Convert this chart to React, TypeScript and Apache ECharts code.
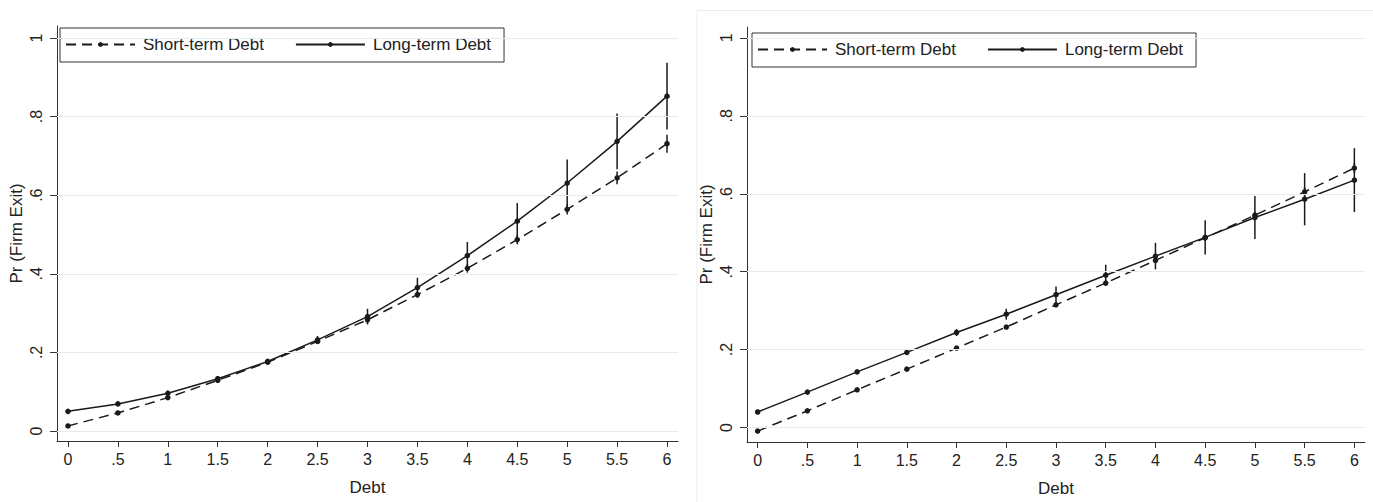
import React, { useEffect, useRef } from "react";
import * as echarts from "echarts";

// Debt levels (x)
const debt = [0, 0.5, 1, 1.5, 2, 2.5, 3, 3.5, 4, 4.5, 5, 5.5, 6];
const yTicks = [0, 0.2, 0.4, 0.6, 0.8, 1];
const xTicks = [0, 0.5, 1, 1.5, 2, 2.5, 3, 3.5, 4, 4.5, 5, 5.5, 6];

// Left panel
const shortLeft = [0.013, 0.046, 0.085, 0.129, 0.175, 0.228, 0.283, 0.347, 0.414, 0.487, 0.564, 0.644, 0.731];
const shortLeftLo = [0.009, 0.042, 0.080, 0.124, 0.170, 0.222, 0.276, 0.339, 0.403, 0.475, 0.551, 0.628, 0.708];
const shortLeftHi = [0.017, 0.050, 0.090, 0.134, 0.180, 0.234, 0.290, 0.355, 0.425, 0.499, 0.577, 0.660, 0.754];
const longLeft = [0.050, 0.069, 0.096, 0.133, 0.177, 0.232, 0.291, 0.365, 0.446, 0.534, 0.631, 0.737, 0.852];
const longLeftLo = [0.045, 0.063, 0.089, 0.126, 0.170, 0.222, 0.271, 0.340, 0.411, 0.488, 0.571, 0.666, 0.767];
const longLeftHi = [0.055, 0.075, 0.103, 0.140, 0.184, 0.242, 0.311, 0.390, 0.481, 0.580, 0.691, 0.808, 0.937];

// Right panel
const shortRight = [-0.009, 0.043, 0.097, 0.150, 0.204, 0.258, 0.315, 0.371, 0.429, 0.487, 0.545, 0.605, 0.666];
const shortRightLo = [-0.013, 0.040, 0.094, 0.147, 0.201, 0.254, 0.310, 0.365, 0.422, 0.479, 0.536, 0.594, 0.653];
const shortRightHi = [-0.005, 0.046, 0.100, 0.153, 0.207, 0.262, 0.320, 0.377, 0.436, 0.495, 0.554, 0.616, 0.679];
const longRight = [0.040, 0.091, 0.143, 0.193, 0.244, 0.291, 0.341, 0.391, 0.440, 0.488, 0.539, 0.586, 0.635];
const longRightLo = [0.035, 0.086, 0.138, 0.187, 0.235, 0.277, 0.320, 0.364, 0.406, 0.444, 0.484, 0.519, 0.553];
const longRightHi = [0.045, 0.096, 0.148, 0.199, 0.253, 0.305, 0.362, 0.418, 0.474, 0.532, 0.594, 0.653, 0.717];

const SHORT = "Short-term Debt";
const LONG = "Long-term Debt";
const FONT = "Liberation Sans, Arial, Helvetica, sans-serif";
const INK = "#1a1a1a";

const stataNum = (v: number) => {
  const r = Math.round(v * 100) / 100;
  const s = String(r);
  if (s.startsWith("0.")) return s.slice(1);
  if (s.startsWith("-0.")) return "-" + s.slice(2);
  return s;
};

function lineSeries(name: string, vals: number[], dashed: boolean, idx: number) {
  return {
    type: "line",
    name,
    xAxisIndex: idx,
    yAxisIndex: idx,
    data: debt.map((x, i) => [x, vals[i]]),
    symbol: "circle",
    symbolSize: 5.5,
    showSymbol: true,
    itemStyle: { color: INK },
    lineStyle: { color: INK, width: 1.5, type: dashed ? [10, 6] : "solid" },
    z: 4,
  };
}

function errSeries(lo: number[], hi: number[], idx: number) {
  return {
    type: "custom",
    xAxisIndex: idx,
    yAxisIndex: idx,
    silent: true,
    data: debt.map((x, i) => [x, lo[i], hi[i]]),
    encode: { x: 0, y: [1, 2] },
    renderItem: (_p: any, api: any) => {
      const a = api.coord([api.value(0), api.value(1)]);
      const b = api.coord([api.value(0), api.value(2)]);
      return {
        type: "line",
        shape: { x1: a[0], y1: a[1], x2: b[0], y2: b[1] },
        style: { stroke: INK, lineWidth: 1.5 },
      };
    },
    z: 3,
  };
}

function xAxis(idx: number, min: number, max: number) {
  return {
    type: "value",
    gridIndex: idx,
    min,
    max,
    name: "Debt",
    nameLocation: "middle",
    nameGap: 38,
    nameTextStyle: { fontFamily: FONT, fontSize: 17, color: "#222" },
    axisLine: { show: true, onZero: false, lineStyle: { color: "#333", width: 1 } },
    axisTick: { show: true, length: 6, lineStyle: { color: "#333" }, customValues: xTicks },
    axisLabel: {
      customValues: xTicks,
      formatter: (v: number) => stataNum(v),
      fontFamily: FONT,
      fontSize: 16,
      color: "#222",
      margin: 10,
    },
    splitLine: { show: false },
  };
}

function yAxis(idx: number, min: number, max: number) {
  return {
    type: "value",
    gridIndex: idx,
    min,
    max,
    name: "Pr (Firm Exit)",
    nameLocation: "middle",
    nameRotate: 90,
    nameGap: 32,
    nameTextStyle: { fontFamily: FONT, fontSize: 17, color: "#222" },
    axisLine: { show: true, onZero: false, lineStyle: { color: "#333", width: 1 } },
    axisTick: { show: true, length: 7, lineStyle: { color: "#333" }, customValues: yTicks },
    axisLabel: {
      customValues: yTicks,
      rotate: 90,
      formatter: (v: number) => stataNum(v),
      fontFamily: FONT,
      fontSize: 16,
      color: "#222",
      margin: 13,
    },
    splitLine: { show: false },
  };
}

function gridLines(idx: number) {
  return {
    type: "line",
    xAxisIndex: idx,
    yAxisIndex: idx,
    data: [],
    silent: true,
    markLine: {
      silent: true,
      symbol: "none",
      label: { show: false },
      lineStyle: { color: "#e1edf2", width: 1, type: "solid" },
      data: yTicks.map((v) => ({ yAxis: v })),
    },
    z: 1,
  };
}

function legend(left: number, top: number) {
  return {
    left,
    top,
    orient: "horizontal",
    data: [SHORT, LONG],
    itemWidth: 69,
    itemHeight: 6,
    itemGap: 31,
    padding: [8, 13, 9, 5],
    borderColor: "#333",
    borderWidth: 1,
    backgroundColor: "#fff",
    textStyle: { fontFamily: FONT, fontSize: 17, color: "#222", padding: [0, 0, 0, 3] },
    selectedMode: false,
  };
}

export default function App() {
  const ref = useRef<HTMLDivElement>(null);
  useEffect(() => {
    if (!ref.current) return;
    const chart = echarts.init(ref.current, undefined, { renderer: "svg" });
    chart.setOption({
      animation: false,
      backgroundColor: "#fff",
      grid: [
        { left: 57, top: 26, width: 621, height: 415 },
        { left: 747, top: 27, width: 618, height: 415 },
      ],
      xAxis: [xAxis(0, -0.11, 6.11), xAxis(1, -0.107, 6.107)],
      yAxis: [yAxis(0, -0.0254, 1.0305), yAxis(1, -0.037, 1.028)],
      legend: [legend(60, 28), legend(752, 33)],
      graphic: [
        {
          type: "rect",
          shape: { x: 697, y: 10.5, width: 700, height: 520 },
          style: { fill: "none", stroke: "#e6eef1", lineWidth: 1 },
          silent: true,
          z: -1,
        },
      ],
      series: [
        gridLines(0),
        gridLines(1),
        errSeries(shortLeftLo, shortLeftHi, 0),
        errSeries(longLeftLo, longLeftHi, 0),
        lineSeries(SHORT, shortLeft, true, 0),
        lineSeries(LONG, longLeft, false, 0),
        errSeries(shortRightLo, shortRightHi, 1),
        errSeries(longRightLo, longRightHi, 1),
        lineSeries(SHORT, shortRight, true, 1),
        lineSeries(LONG, longRight, false, 1),
      ],
    });
    return () => chart.dispose();
  }, []);
  return (
    <div
      ref={ref}
      style={{ position: "fixed", left: 0, top: 0, width: 1373, height: 502 }}
    />
  );
}
